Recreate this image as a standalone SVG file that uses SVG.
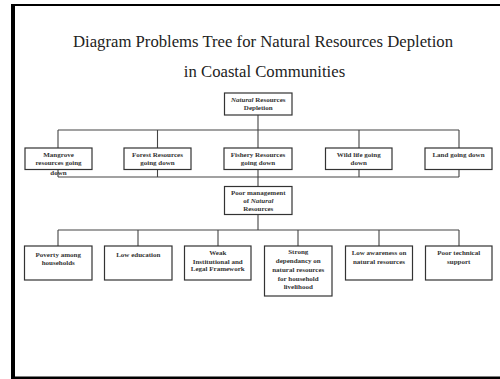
<svg xmlns="http://www.w3.org/2000/svg" width="500" height="379" viewBox="0 0 500 379">
  <style>
    .frame { fill: #000; }
    .title { font-family: "Liberation Serif", "Times New Roman", serif; font-size: 16.7px; fill: #222; text-anchor: middle; }
    .box { fill: #fff; stroke: #333; stroke-width: 1.2; }
    .lbl { font-family: "Liberation Serif", "Times New Roman", serif; font-size: 7px; font-weight: bold; fill: #333; text-anchor: middle; }
    .wire { fill: none; stroke: #444; stroke-width: 1.1; }
  </style>
  <rect width="500" height="379" fill="#fff"/>

  <!-- page frame -->
  <rect class="frame" x="11" y="4" width="4" height="375"/>
  <rect class="frame" x="11" y="4" width="489" height="2"/>
  <rect class="frame" x="11" y="376.5" width="489" height="2.5"/>

  <!-- heading -->
  <text class="title" x="263" y="46.5">Diagram Problems Tree for Natural Resources Depletion</text>
  <text class="title" x="264.5" y="76.5">in Coastal Communities</text>

  <!-- connectors -->
  <g id="connectors">
    <path class="wire" d="M258 115 V130 M58 130 H459 M58 130 V148 M157.5 130 V148 M258 130 V148 M359 130 V148 M459 130 V148"/>
    <path class="wire" d="M58 169.5 V177 M157.5 169.5 V177 M258 169.5 V177 M359 169.5 V177 M459 169.5 V177 M58 177 H459 M258 177 V186.5"/>
    <path class="wire" d="M258 214.5 V230 M58 230 H459 M58 230 V246 M138 230 V246 M218 230 V246 M298 230 V246 M379 230 V246 M459 230 V246"/>
  </g>

  <!-- top problem -->
  <g id="natural-resources-depletion">
    <rect class="box" x="224.5" y="93" width="67.5" height="22"/>
    <text class="lbl" x="258.25" y="102"><tspan font-style="italic">Natural</tspan> Resources</text>
    <text class="lbl" x="258.25" y="109.5">Depletion</text>
  </g>

  <!-- effects -->
  <g id="mangrove">
    <rect class="box" x="25" y="148" width="67" height="21.5"/>
    <text class="lbl" x="58.5" y="156.5">Mangrove</text>
    <text class="lbl" x="58.5" y="165">resources going</text>
    <text class="lbl" x="58.5" y="174.5">down</text>
  </g>
  <g id="forest">
    <rect class="box" x="124" y="148" width="67" height="21.5"/>
    <text class="lbl" x="157.5" y="157">Forest Resources</text>
    <text class="lbl" x="157.5" y="165">going down</text>
  </g>
  <g id="fishery">
    <rect class="box" x="224" y="148" width="68" height="21.5"/>
    <text class="lbl" x="258" y="157">Fishery Resources</text>
    <text class="lbl" x="258" y="165">going down</text>
  </g>
  <g id="wildlife">
    <rect class="box" x="325.5" y="148" width="66.5" height="21.5"/>
    <text class="lbl" x="358.75" y="157">Wild life going</text>
    <text class="lbl" x="358.75" y="165">down</text>
  </g>
  <g id="land">
    <rect class="box" x="425" y="148" width="67" height="21.5"/>
    <text class="lbl" x="458.5" y="157">Land going down</text>
  </g>

  <!-- core problem -->
  <g id="poor-management">
    <rect class="box" x="224.5" y="186.5" width="67.5" height="28"/>
    <text class="lbl" x="258.25" y="195">Poor management</text>
    <text class="lbl" x="258.25" y="202.5">of <tspan font-style="italic">Natural</tspan></text>
    <text class="lbl" x="258.25" y="210.5">Resources</text>
  </g>

  <!-- causes -->
  <g id="poverty">
    <rect class="box" x="24.5" y="246" width="67.5" height="34"/>
    <text class="lbl" x="58.25" y="257">Poverty among</text>
    <text class="lbl" x="58.25" y="264.5">households</text>
  </g>
  <g id="low-education">
    <rect class="box" x="104.5" y="246" width="67.5" height="34"/>
    <text class="lbl" x="138.25" y="257">Low education</text>
  </g>
  <g id="weak-framework">
    <rect class="box" x="184.5" y="246" width="66.5" height="34"/>
    <text class="lbl" x="217.75" y="255">Weak</text>
    <text class="lbl" x="217.75" y="263.5">Institutional and</text>
    <text class="lbl" x="217.75" y="271">Legal Framework</text>
  </g>
  <g id="strong-dependancy">
    <rect class="box" x="264.5" y="246" width="67.5" height="50"/>
    <text class="lbl" x="298.25" y="253.5">Strong</text>
    <text class="lbl" x="298.25" y="262.5">dependancy on</text>
    <text class="lbl" x="298.25" y="271.5">natural resources</text>
    <text class="lbl" x="298.25" y="280.5">for household</text>
    <text class="lbl" x="298.25" y="289">livelihood</text>
  </g>
  <g id="low-awareness">
    <rect class="box" x="345.5" y="246" width="67" height="34"/>
    <text class="lbl" x="379" y="255">Low awareness on</text>
    <text class="lbl" x="379" y="263.5">natural resources</text>
  </g>
  <g id="poor-technical-support">
    <rect class="box" x="425.5" y="246" width="66.5" height="34"/>
    <text class="lbl" x="458.75" y="255">Poor technical</text>
    <text class="lbl" x="458.75" y="263.5">support</text>
  </g>
</svg>
